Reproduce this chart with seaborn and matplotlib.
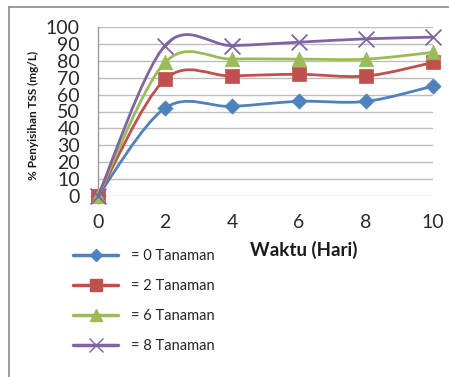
import numpy as np
import pandas as pd
import seaborn as sns
import matplotlib
matplotlib.use("Agg")
import matplotlib.pyplot as plt
from matplotlib.path import Path
from matplotlib.patches import PathPatch
from matplotlib.lines import Line2D

# Days of observation
hari = [0, 2, 4, 6, 8, 10]

# TSS removal (%) for each number of plants
tanaman_0 = [0, 52, 53, 56, 56, 65]
tanaman_2 = [0, 69, 71, 72, 71, 79]
tanaman_6 = [0, 79, 81, 81, 81, 85]
tanaman_8 = [0, 89, 89, 91, 93, 94]

labels = ["= 0 Tanaman", "= 2 Tanaman", "= 6 Tanaman", "= 8 Tanaman"]
series = [tanaman_0, tanaman_2, tanaman_6, tanaman_8]
colors = ["#4F81BD", "#C0504D", "#9BBB59", "#8064A2"]
markers = ["D", "s", "^", "x"]
marker_px = [60, 110, 110, 130]

sns.set_theme(style="white")
plt.rcParams["font.family"] = ["Lato", "DejaVu Sans"]

W, H = 449, 377
fig = plt.figure(figsize=(W / 100, H / 100), dpi=100)

# Plot area in pixel terms
left, right, top, bottom = 98, 433, 27, 196
ax = fig.add_axes([left / W, 1 - bottom / H, (right - left) / W, (bottom - top) / H])


def smooth_path(xs, ys):
    """Cubic Bezier path through the points (Catmull-Rom style smoothing)."""
    pts = np.column_stack([xs, ys]).astype(float)
    n = len(pts)
    verts = [pts[0]]
    codes = [Path.MOVETO]
    for i in range(n - 1):
        p_prev = pts[i - 1] if i > 0 else pts[i]
        p0, p1 = pts[i], pts[i + 1]
        p_next = pts[i + 2] if i + 2 < n else pts[i + 1]
        c1 = p0 + (p1 - p_prev) / 6.0
        c2 = p1 - (p_next - p0) / 6.0
        verts += [c1, c2, p1]
        codes += [Path.CURVE4] * 3
    return Path(np.array(verts), codes)


df = pd.DataFrame({"hari": hari})
for i, (vals, lab, col, mk, ms) in enumerate(zip(series, labels, colors, markers, marker_px)):
    df[lab] = vals
    patch = PathPatch(smooth_path(hari, vals), facecolor="none", edgecolor=col,
                      lw=2.0, zorder=3 + 2 * i, clip_on=False, capstyle="round")
    ax.add_patch(patch)
    if mk == "x":
        sns.scatterplot(data=df, x="hari", y=lab, ax=ax, marker=mk, s=ms,
                        color=col, linewidth=1.3, zorder=4 + 2 * i, clip_on=False,
                        legend=False)
    else:
        sns.scatterplot(data=df, x="hari", y=lab, ax=ax, marker=mk, s=ms,
                        color=col, edgecolor=col, linewidth=0.5,
                        zorder=4 + 2 * i, clip_on=False, legend=False)

ax.set_xlim(0, 10)
ax.set_ylim(0, 100)
ax.set_xticks(hari)
ax.set_yticks(range(0, 101, 10))
ax.tick_params(axis="both", length=0, labelsize=14, colors="#2a2a2a")
ax.tick_params(axis="y", pad=13)
ax.tick_params(axis="x", pad=13)
ax.grid(axis="y", color="#BDBDBD", lw=1.0)
ax.grid(axis="x", visible=False)
for side in ["top", "right", "bottom"]:
    ax.spines[side].set_visible(False)
ax.spines["left"].set_color("#9A9A9A")
ax.spines["left"].set_linewidth(1.0)
ax.set_xlabel("")
ax.set_ylabel("")

fig.text(304 / W, 1 - 250 / H, "Waktu (Hari)", fontsize=13.5, fontweight="bold",
         ha="center", va="center", color="#1a1a1a")
fig.text(33 / W, 1 - 115 / H, "% Penyisihan TSS (mg/L)", fontsize=8.5,
         fontweight="bold", rotation=90, ha="center", va="center", color="#1a1a1a")

# Chart frame (top and left edges)
frame_col = "#8A8A8A"
fig.add_artist(Line2D([9 / W, 1.0], [1 - 7 / H, 1 - 7 / H], transform=fig.transFigure,
                      color=frame_col, lw=1.2))
fig.add_artist(Line2D([9 / W, 9 / W], [1 - 7 / H, 0.0], transform=fig.transFigure,
                      color=frame_col, lw=1.2))

handles = []
for lab, col, mk in zip(labels, colors, markers):
    if mk == "x":
        h = Line2D([], [], color=col, lw=2.5, marker=mk, markersize=10,
                   markeredgewidth=1.0)
    else:
        h = Line2D([], [], color=col, lw=2.5, marker=mk,
                   markersize={"D": 6.5, "s": 9, "^": 8}[mk],
                   markeredgecolor=col)
    handles.append(h)

fig.legend(handles, labels, loc="upper left",
           bbox_to_anchor=(73 / W, 1 - 249 / H), bbox_transform=fig.transFigure,
           frameon=False, fontsize=10.5, handlelength=3.1, handletextpad=0.85,
           labelspacing=1.1, borderpad=0, borderaxespad=0)

fig.savefig("out.png", dpi=100)
